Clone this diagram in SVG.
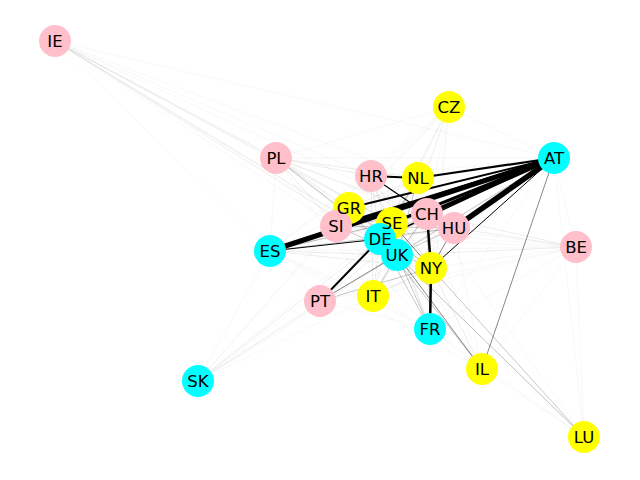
<svg xmlns="http://www.w3.org/2000/svg" width="640" height="480" viewBox="0 0 640 480">
<style>
line{stroke-linecap:butt}
.f0{stroke:#000;stroke-opacity:0.06;stroke-width:0.6}
.f1{stroke:#000;stroke-opacity:0.13;stroke-width:0.6}
.f2{stroke:#000;stroke-opacity:0.32;stroke-width:0.7}
.f3{stroke:#000;stroke-opacity:0.6;stroke-width:0.8}
.k{stroke:#000}
.p{fill:#ffc0cb}
.y{fill:#ffff00}
.c{fill:#00ffff}
text{font-family:"DejaVu Sans",sans-serif;font-size:16.5px;text-anchor:middle;dominant-baseline:central;fill:#000}
</style>
<rect width="640" height="480" fill="#fff"/>
<g id="edges">
<line class="f0" x1="55" y1="41" x2="418" y2="178"/>
<line class="f0" x1="55" y1="41" x2="554" y2="158"/>
<line class="f0" x1="55" y1="41" x2="371" y2="176"/>
<line class="f0" x1="55" y1="41" x2="270" y2="251"/>
<line class="f0" x1="55" y1="41" x2="336" y2="226"/>
<line class="f0" x1="55" y1="41" x2="431" y2="268"/>
<line class="f1" x1="55" y1="41" x2="276" y2="158"/>
<line class="f1" x1="55" y1="41" x2="392" y2="223"/>
<line class="f1" x1="55" y1="41" x2="380" y2="239"/>
<line class="f1" x1="55" y1="41" x2="397" y2="255"/>
<line class="f0" x1="55" y1="41" x2="427" y2="214"/>
<line class="f1" x1="276" y1="158" x2="371" y2="176"/>
<line class="f1" x1="276" y1="158" x2="418" y2="178"/>
<line class="f1" x1="276" y1="158" x2="392" y2="223"/>
<line class="f2" x1="276" y1="158" x2="380" y2="239"/>
<line class="f1" x1="276" y1="158" x2="397" y2="255"/>
<line class="f1" x1="276" y1="158" x2="427" y2="214"/>
<line class="f0" x1="276" y1="158" x2="349" y2="208"/>
<line class="f1" x1="276" y1="158" x2="336" y2="226"/>
<line class="f1" x1="276" y1="158" x2="431" y2="268"/>
<line class="f0" x1="276" y1="158" x2="270" y2="251"/>
<line class="f0" x1="276" y1="158" x2="554" y2="158"/>
<line class="f0" x1="276" y1="158" x2="454" y2="228"/>
<line class="f0" x1="276" y1="158" x2="373" y2="296"/>
<line class="f0" x1="449" y1="107" x2="554" y2="158"/>
<line class="f1" x1="449" y1="107" x2="380" y2="239"/>
<line class="f1" x1="449" y1="107" x2="397" y2="255"/>
<line class="f0" x1="449" y1="107" x2="392" y2="223"/>
<line class="f0" x1="449" y1="107" x2="431" y2="268"/>
<line class="f0" x1="449" y1="107" x2="349" y2="208"/>
<line class="f0" x1="449" y1="107" x2="336" y2="226"/>
<line class="f0" x1="449" y1="107" x2="270" y2="251"/>
<line class="f0" x1="449" y1="107" x2="276" y2="158"/>
<line class="f0" x1="449" y1="107" x2="430" y2="329"/>
<line class="f0" x1="449" y1="107" x2="371" y2="176"/>
<line class="f0" x1="449" y1="107" x2="427" y2="214"/>
<line class="f0" x1="576" y1="247" x2="380" y2="239"/>
<line class="f1" x1="576" y1="247" x2="397" y2="255"/>
<line class="f1" x1="576" y1="247" x2="427" y2="214"/>
<line class="f1" x1="576" y1="247" x2="454" y2="228"/>
<line class="f0" x1="576" y1="247" x2="431" y2="268"/>
<line class="f0" x1="576" y1="247" x2="270" y2="251"/>
<line class="f0" x1="576" y1="247" x2="392" y2="223"/>
<line class="f0" x1="576" y1="247" x2="554" y2="158"/>
<line class="f0" x1="576" y1="247" x2="373" y2="296"/>
<line class="f0" x1="576" y1="247" x2="584" y2="437"/>
<line class="f0" x1="576" y1="247" x2="482" y2="369"/>
<line class="f0" x1="576" y1="247" x2="430" y2="329"/>
<line class="f0" x1="576" y1="247" x2="336" y2="226"/>
<line class="f0" x1="576" y1="247" x2="320" y2="301"/>
<line class="f1" x1="198" y1="381" x2="380" y2="239"/>
<line class="f1" x1="198" y1="381" x2="397" y2="255"/>
<line class="f0" x1="198" y1="381" x2="431" y2="268"/>
<line class="f0" x1="198" y1="381" x2="270" y2="251"/>
<line class="f0" x1="198" y1="381" x2="392" y2="223"/>
<line class="f0" x1="198" y1="381" x2="427" y2="214"/>
<line class="f0" x1="198" y1="381" x2="336" y2="226"/>
<line class="f0" x1="198" y1="381" x2="349" y2="208"/>
<line class="f0" x1="198" y1="381" x2="320" y2="301"/>
<line class="f0" x1="198" y1="381" x2="454" y2="228"/>
<line class="f0" x1="584" y1="437" x2="380" y2="239"/>
<line class="f0" x1="584" y1="437" x2="482" y2="369"/>
<line class="f0" x1="584" y1="437" x2="430" y2="329"/>
<line class="f0" x1="584" y1="437" x2="427" y2="214"/>
<line class="f0" x1="584" y1="437" x2="554" y2="158"/>
<line class="f2" x1="584" y1="437" x2="397" y2="255"/>
<line class="f2" x1="584" y1="437" x2="431" y2="268"/>
<line class="f1" x1="482" y1="369" x2="431" y2="268"/>
<line class="f0" x1="482" y1="369" x2="427" y2="214"/>
<line class="f0" x1="482" y1="369" x2="392" y2="223"/>
<line class="f0" x1="482" y1="369" x2="430" y2="329"/>
<line class="f0" x1="482" y1="369" x2="270" y2="251"/>
<line class="f0" x1="482" y1="369" x2="454" y2="228"/>
<line class="f2" x1="482" y1="369" x2="380" y2="239"/>
<line class="f3" x1="482" y1="369" x2="397" y2="255"/>
<line class="f3" x1="482" y1="369" x2="554" y2="158"/>
<line class="f2" x1="430" y1="329" x2="380" y2="239"/>
<line class="f2" x1="430" y1="329" x2="397" y2="255"/>
<line class="f1" x1="430" y1="329" x2="392" y2="223"/>
<line class="f1" x1="430" y1="329" x2="427" y2="214"/>
<line class="f0" x1="430" y1="329" x2="349" y2="208"/>
<line class="f0" x1="430" y1="329" x2="336" y2="226"/>
<line class="f0" x1="430" y1="329" x2="270" y2="251"/>
<line class="f0" x1="430" y1="329" x2="373" y2="296"/>
<line class="f0" x1="430" y1="329" x2="320" y2="301"/>
<line class="f0" x1="430" y1="329" x2="554" y2="158"/>
<line class="f1" x1="430" y1="329" x2="371" y2="176"/>
<line class="f1" x1="373" y1="296" x2="380" y2="239"/>
<line class="f2" x1="373" y1="296" x2="397" y2="255"/>
<line class="f1" x1="373" y1="296" x2="431" y2="268"/>
<line class="f1" x1="373" y1="296" x2="392" y2="223"/>
<line class="f1" x1="373" y1="296" x2="427" y2="214"/>
<line class="f0" x1="373" y1="296" x2="270" y2="251"/>
<line class="f0" x1="373" y1="296" x2="454" y2="228"/>
<line class="f0" x1="373" y1="296" x2="554" y2="158"/>
<line class="f1" x1="373" y1="296" x2="371" y2="176"/>
<line class="f3" x1="320" y1="301" x2="397" y2="255"/>
<line class="f2" x1="320" y1="301" x2="431" y2="268"/>
<line class="f1" x1="320" y1="301" x2="392" y2="223"/>
<line class="f1" x1="320" y1="301" x2="427" y2="214"/>
<line class="f0" x1="320" y1="301" x2="270" y2="251"/>
<line class="f0" x1="320" y1="301" x2="554" y2="158"/>
<line class="f1" x1="270" y1="251" x2="397" y2="255"/>
<line class="f1" x1="270" y1="251" x2="431" y2="268"/>
<line class="f2" x1="270" y1="251" x2="427" y2="214"/>
<line class="f2" x1="270" y1="251" x2="454" y2="228"/>
<line class="f1" x1="270" y1="251" x2="392" y2="223"/>
<line class="f0" x1="270" y1="251" x2="418" y2="178"/>
<line class="f0" x1="270" y1="251" x2="371" y2="176"/>
<line class="f1" x1="371" y1="176" x2="380" y2="239"/>
<line class="f1" x1="371" y1="176" x2="397" y2="255"/>
<line class="f1" x1="371" y1="176" x2="431" y2="268"/>
<line class="f0" x1="371" y1="176" x2="554" y2="158"/>
<line class="f2" x1="418" y1="178" x2="380" y2="239"/>
<line class="f2" x1="418" y1="178" x2="397" y2="255"/>
<line class="f1" x1="418" y1="178" x2="431" y2="268"/>
<line class="f1" x1="418" y1="178" x2="336" y2="226"/>
<line class="f1" x1="418" y1="178" x2="349" y2="208"/>
<line class="f2" x1="418" y1="178" x2="392" y2="223"/>
<line class="f1" x1="454" y1="228" x2="380" y2="239"/>
<line class="f2" x1="454" y1="228" x2="397" y2="255"/>
<line class="f3" x1="454" y1="228" x2="431" y2="268"/>
<line class="f2" x1="454" y1="228" x2="336" y2="226"/>
<line class="f2" x1="427" y1="214" x2="397" y2="255"/>
<line class="f2" x1="427" y1="214" x2="380" y2="239"/>
<line class="f2" x1="427" y1="214" x2="336" y2="226"/>
<line class="f3" x1="392" y1="223" x2="431" y2="268"/>
<line class="f2" x1="349" y1="208" x2="431" y2="268"/>
<line class="f2" x1="336" y1="226" x2="431" y2="268"/>
<line class="f2" x1="554" y1="158" x2="397" y2="255"/>
<line class="k" stroke-width="1" x1="554" y1="158" x2="431" y2="268"/>
<line class="k" stroke-width="1.2" x1="371" y1="176" x2="427" y2="214"/>
<line class="k" stroke-width="1" x1="270" y1="251" x2="380" y2="239"/>
<line class="k" stroke-width="1.5" x1="554" y1="158" x2="380" y2="239"/>
<line class="k" stroke-width="2" x1="554" y1="158" x2="349" y2="208"/>
<line class="k" stroke-width="2.2" x1="554" y1="158" x2="418" y2="178"/>
<line class="k" stroke-width="3" x1="554" y1="158" x2="336" y2="226"/>
<line class="k" stroke-width="3" x1="554" y1="158" x2="392" y2="223"/>
<line class="k" stroke-width="4" x1="554" y1="158" x2="427" y2="214"/>
<line class="k" stroke-width="5.5" x1="554" y1="158" x2="454" y2="228"/>
<line class="k" stroke-width="5" x1="554" y1="158" x2="270" y2="251"/>
<line class="k" stroke-width="2.2" x1="371" y1="176" x2="418" y2="178"/>
<line class="k" stroke-width="2" x1="380" y1="239" x2="320" y2="301"/>
<line class="k" stroke-width="2.5" x1="427" y1="214" x2="431" y2="268"/>
<line class="k" stroke-width="2.5" x1="431" y1="268" x2="430" y2="329"/>
</g>
<g id="nodes">
<g id="IE"><circle class="p" cx="55" cy="41" r="16"/></g>
<g id="CZ"><circle class="y" cx="449" cy="107" r="16"/></g>
<g id="PL"><circle class="p" cx="276" cy="158" r="16"/></g>
<g id="AT"><circle class="c" cx="554" cy="158" r="16"/></g>
<g id="HR"><circle class="p" cx="371" cy="176" r="16"/></g>
<g id="NL"><circle class="y" cx="418" cy="178" r="16"/></g>
<g id="GR"><circle class="y" cx="349" cy="208" r="16"/></g>
<g id="SI"><circle class="p" cx="336" cy="226" r="16"/></g>
<g id="SE"><circle class="y" cx="392" cy="223" r="16"/></g>
<g id="CH"><circle class="p" cx="427" cy="214" r="16"/></g>
<g id="HU"><circle class="p" cx="454" cy="228" r="16"/></g>
<g id="DE"><circle class="c" cx="380" cy="239" r="16"/></g>
<g id="UK"><circle class="c" cx="397" cy="255" r="16"/></g>
<g id="NY"><circle class="y" cx="431" cy="268" r="16"/></g>
<g id="BE"><circle class="p" cx="576" cy="247" r="16"/></g>
<g id="ES"><circle class="c" cx="270" cy="251" r="16"/></g>
<g id="PT"><circle class="p" cx="320" cy="301" r="16"/></g>
<g id="IT"><circle class="y" cx="373" cy="296" r="16"/></g>
<g id="FR"><circle class="c" cx="430" cy="329" r="16"/></g>
<g id="SK"><circle class="c" cx="198" cy="381" r="16"/></g>
<g id="IL"><circle class="y" cx="482" cy="369" r="16"/></g>
<g id="LU"><circle class="y" cx="584" cy="437" r="16"/></g>
</g>
<g id="labels">
<text id="IE-label" x="55" y="41">IE</text>
<text id="CZ-label" x="449" y="107">CZ</text>
<text id="PL-label" x="276" y="158">PL</text>
<text id="AT-label" x="554" y="158">AT</text>
<text id="HR-label" x="371" y="176">HR</text>
<text id="NL-label" x="418" y="178">NL</text>
<text id="GR-label" x="349" y="208">GR</text>
<text id="SI-label" x="336" y="226">SI</text>
<text id="SE-label" x="392" y="223">SE</text>
<text id="CH-label" x="427" y="214">CH</text>
<text id="HU-label" x="454" y="228">HU</text>
<text id="DE-label" x="380" y="239">DE</text>
<text id="UK-label" x="397" y="255">UK</text>
<text id="NY-label" x="431" y="268">NY</text>
<text id="BE-label" x="576" y="247">BE</text>
<text id="ES-label" x="270" y="251">ES</text>
<text id="PT-label" x="320" y="301">PT</text>
<text id="IT-label" x="373" y="296">IT</text>
<text id="FR-label" x="430" y="329">FR</text>
<text id="SK-label" x="198" y="381">SK</text>
<text id="IL-label" x="482" y="369">IL</text>
<text id="LU-label" x="584" y="437">LU</text>
</g>
</svg>
